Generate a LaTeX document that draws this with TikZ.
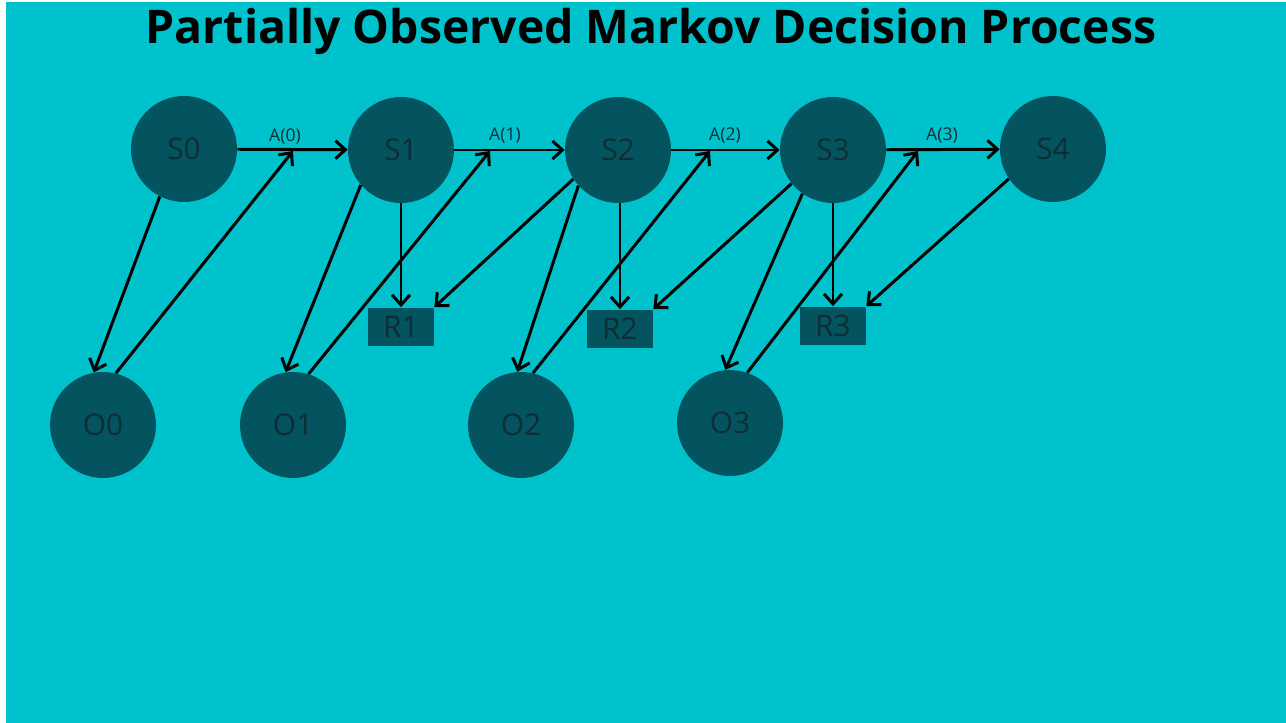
\documentclass[tikz,border=0pt]{standalone}
\usepackage{fontspec}
\setmainfont{Open Sans}
\usetikzlibrary{arrows.meta}
\definecolor{bgcyan}{RGB}{0,194,204}
\definecolor{nodeteal}{RGB}{3,84,94}
\definecolor{labelink}{RGB}{12,46,52}
\tikzset{
  state/.style={circle,fill=nodeteal,minimum size=2.12cm,inner sep=0pt,text=labelink,font=\fontsize{17}{20}\selectfont},
  reward/.style={rectangle,fill=nodeteal,minimum width=1.32cm,minimum height=0.78cm,inner sep=0pt,text=labelink,font=\fontsize{17}{20}\selectfont},
  link/.style={line width=1.7pt,-{Straight Barb[length=2mm,width=3.6mm]}},
  act/.style={text=labelink,font=\fontsize{10}{12}\selectfont}
}

\begin{document}
\begin{tikzpicture}[x=0.02cm,y=-0.02cm]
  \useasboundingbox (0,0) rectangle (1286,723);
  \fill[bgcyan] (6,2) rectangle (1286,723);
  \node (title) at (651,31) {\fontsize{26.4}{30}\selectfont\bfseries Partially Observed Markov Decision Process};

  \node[state] (s0) at (184,149) {S0};
  \node[state] (s1) at (401,150) {S1};
  \node[state] (s2) at (618,150) {S2};
  \node[state] (s3) at (833,150) {S3};
  \node[state] (s4) at (1053,149) {S4};
  \node[state] (o0) at (103,425) {O0};
  \node[state] (o1) at (293,425) {O1};
  \node[state] (o2) at (521,425) {O2};
  \node[state] (o3) at (730,423) {O3};
  \node[reward] (r1) at (401,327) {R1};
  \node[reward] (r2) at (620,329) {R2};
  \node[reward] (r3) at (833,326) {R3};

  \coordinate (a0) at (293,151);
  \coordinate (a1) at (490,151);
  \coordinate (a2) at (710,151);
  \coordinate (a3) at (918,151);
  \node[act] (a0l) at (285,137) {A(0)};
  \node[act] (a1l) at (505,136) {A(1)};
  \node[act] (a2l) at (725,136) {A(2)};
  \node[act] (a3l) at (942,136) {A(3)};

  \draw[link] (s0) -- (s1);
  \draw[link] (s1) -- (s2);
  \draw[link] (s2) -- (s3);
  \draw[link] (s3) -- (s4);

  \draw[link] (s0.243) -- (o0.100);
  \draw[link] (o0.76) -- (a0);
  \draw[link] (s1.221) -- (o1.98);
  \draw[link] (o1.73) -- (a1);
  \draw[link] (s1.south) -- (r1.north);
  \draw[link] (s2.213) -- (r1.north east);
  \draw[link] (s2.222) -- (o2.94);
  \draw[link] (o2.77) -- (a2);
  \draw[link] (s2.south -| r2.north) -- (r2.north);
  \draw[link] (s3.219) -- (r2.north east);
  \draw[link] (s3.235) -- (o3.95);
  \draw[link] (o3.71) -- (a3);
  \draw[link] (s3.south) -- (r3.north);
  \draw[link] (s4.214) -- (r3.north east);
\end{tikzpicture}
\end{document}
